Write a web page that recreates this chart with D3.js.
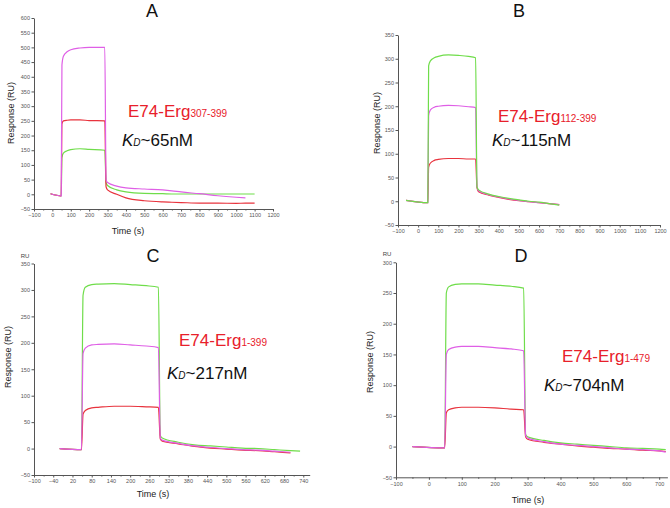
<!DOCTYPE html>
<html><head><meta charset="utf-8">
<script src="https://cdn.jsdelivr.net/npm/d3@7"></script>
<style>
html,body{margin:0;padding:0;background:#fff;}
svg{display:block;font-family:"Liberation Sans",Arial,sans-serif;}
</style></head>
<body>
<svg id="chart" width="670" height="508"></svg>
<script>
// ---------- DATA ----------
const panelNames = ["A", "B", "C", "D"];
const constructNames = ["E74-Erg", "E74-Erg", "E74-Erg", "E74-Erg"];
const constructRanges = ["307-399", "112-399", "1-399", "1-479"];
const kdValues = ["~65nM", "~115nM", "~217nM", "~704nM"];

const xTicksA = [-100,0,100,200,300,400,500,600,700,800,900,1000,1100,1200];
const yTicksA = [-50,0,50,100,150,200,250,300,350,400,450,500,550,600];
const xTicksB = [-100,0,100,200,300,400,500,600,700,800,900,1000,1100,1200];
const yTicksB = [-50,0,50,100,150,200,250,300,350];
const xTicksC = [-100,-40,20,80,140,200,260,320,380,440,500,560,620,680,740];
const yTicksC = [-50,0,50,100,150,200,250,300,350];
const xTicksD = [-100,0,100,200,300,400,500,600,700];
const yTicksD = [-50,0,50,100,150,200,250,300];

const timeA  = [-10, 48, 52, 60, 80, 100, 150, 200, 285, 292, 300, 350, 400, 500, 600, 650, 700, 800, 900, 1000, 1050, 1100];
const pinkA  = [2, -5, 440, 470, 485, 492, 498, 500, 500, 50, 40, 28, 22, 18, 15, 12, 8, 2, -5, -10, -12, null];
const redA   = [2, -5, 240, 250, 252, 253, 253, 251, 250, 25, 15, 0, -12, -22, -26, -27, -28, -30, -30, -31, -30, -30];
const greenA = [2, -5, 125, 140, 148, 152, 155, 153, 150, 40, 30, 15, 8, 3, 2, 1, 1, 1, 1, 1, 1, 1];

const timeB  = [-60, 48, 52, 60, 80, 100, 150, 200, 250, 285, 292, 300, 350, 400, 450, 500, 550, 600, 650, 700];
const greenB = [2, -3, 285, 295, 302, 305, 308, 307, 305, 302, 30, 24, 15, 10, 6, 3, 0, -2, -5, -8];
const pinkB  = [2, -3, 180, 192, 198, 200, 202, 201, 199, 197, 30, 22, 14, 9, 5, 2, -1, -3, -5, -7];
const redB   = [2, -3, 72, 80, 86, 88, 90, 90, 89, 89, 28, 20, 13, 8, 4, 1, -1, -3, -5, -7];

const timeC  = [-20, 48, 53, 60, 80, 100, 150, 200, 250, 288, 294, 300, 350, 400, 450, 500, 550, 600, 650, 700, 730];
const greenC = [0, -2, 290, 305, 310, 311, 312, 310, 308, 305, 25, 20, 12, 7, 5, 3, 1, 0, -2, -4, -5];
const pinkC  = [0, -2, 180, 190, 196, 197, 198, 196, 194, 191, 20, 16, 10, 5, 2, 0, -2, -3, -5, -7, null];
const redC   = [0, -2, 65, 72, 77, 78, 80, 80, 79, 78, 18, 14, 9, 4, 1, -1, -3, -4, -6, -8, null];

const timeD  = [-50, 48, 53, 60, 80, 100, 150, 200, 250, 288, 294, 300, 350, 400, 450, 500, 550, 600, 650, 700, 720];
const greenD = [0, -2, 250, 260, 264, 265, 265, 263, 261, 258, 20, 16, 10, 6, 4, 2, 0, -2, -3, -4, -5];
const pinkD  = [0, -2, 150, 158, 162, 163, 163, 161, 159, 156, 18, 14, 8, 4, 2, 0, -2, -4, -5, -7, -9];
const redD   = [0, -2, 55, 60, 63, 64, 64, 63, 61, 60, 16, 12, 7, 4, 1, -1, -3, -4, -6, -7, -8];

// ---------- LAYOUT / STYLE ----------
const COLORS = {pink: "#df5fe6", green: "#6fdd4a", red: "#e8333d"};
const panels = [
  {name: panelNames[0], xDom: [-100,1200], xRange: [34,273], yDom: [-50,600], yRange: [209,18],
   xTicks: xTicksA, yTicks: yTicksA, time: timeA,
   series: [["green", greenA], ["red", redA], ["pink", pinkA]],
   title: [152,17], yLab: [11,113], xLab: [128,234], ru: null,
   ann: [128,117], kd: [122,146], idx: 0},
  {name: panelNames[1], xDom: [-100,1200], xRange: [398,660], yDom: [-50,350], yRange: [225,35],
   xTicks: xTicksB, yTicks: yTicksB, time: timeB,
   series: [["red", redB], ["pink", pinkB], ["green", greenB]],
   title: [519,17], yLab: [377,123], xLab: null, ru: null,
   ann: [498,122], kd: [492,146], idx: 1},
  {name: panelNames[2], xDom: [-100,760], xRange: [34,309.7], yDom: [-50,350], yRange: [475,263.5],
   xTicks: xTicksC, yTicks: yTicksC, time: timeC,
   series: [["green", greenC], ["red", redC], ["pink", pinkC]],
   title: [153,262], yLab: [8,357], xLab: [153,497], ru: [25,258],
   ann: [179,346], kd: [167,379], idx: 2},
  {name: panelNames[3], xDom: [-100,725], xRange: [396,667.4], yDom: [-50,300], yRange: [477.3,262.3],
   xTicks: xTicksD, yTicks: yTicksD, time: timeD,
   series: [["green", greenD], ["red", redD], ["pink", pinkD]],
   title: [521,262], yLab: [370,362], xLab: [528,503], ru: [387,256],
   ann: [562,362], kd: [544,391], idx: 3}
];

const svg = d3.select("#chart");
const axisColor = "#555";
const fmt = d3.format("d");

panels.forEach(p => {
  const x = d3.scaleLinear().domain(p.xDom).range(p.xRange);
  const y = d3.scaleLinear().domain(p.yDom).range(p.yRange);
  const g = svg.append("g");

  // minor x ticks
  const minor = [];
  for (let i = 0; i < p.xTicks.length - 1; i++) minor.push((p.xTicks[i] + p.xTicks[i+1]) / 2);
  g.append("g").attr("transform", `translate(0,${p.yRange[0]})`)
    .call(d3.axisBottom(x).tickValues(minor).tickSize(1.5).tickFormat(""))
    .call(a => a.select(".domain").remove())
    .call(a => a.selectAll("line").attr("stroke", axisColor));

  const xa = g.append("g").attr("transform", `translate(0,${p.yRange[0]})`)
    .call(d3.axisBottom(x).tickValues(p.xTicks).tickFormat(fmt).tickSizeInner(2.5).tickSizeOuter(0).tickPadding(2));
  const ya = g.append("g").attr("transform", `translate(${p.xRange[0]},0)`)
    .call(d3.axisLeft(y).tickValues(p.yTicks).tickFormat(fmt).tickSizeInner(2.5).tickSizeOuter(0).tickPadding(1.5));
  [xa, ya].forEach(a => {
    a.select(".domain").attr("stroke", axisColor).attr("stroke-width", 1);
    a.selectAll(".tick line").attr("stroke", axisColor);
    a.selectAll("text").attr("fill", "#555").style("font-size", "5.5px")
      .style("font-family", '"Liberation Sans",Arial,sans-serif');
  });

  // curves
  const line = d3.line()
    .defined(d => d[1] !== null)
    .x(d => x(d[0])).y(d => y(d[1]))
    .curve(d3.curveMonotoneX);
  p.series.forEach(([c, vals]) => {
    const pts = p.time.map((t, i) => [t, vals[i]]);
    g.append("path").datum(pts).attr("d", line)
      .attr("fill", "none").attr("stroke", COLORS[c]).attr("stroke-width", 1.2);
  });

  // texts
  g.append("text").attr("x", p.title[0]).attr("y", p.title[1]).attr("text-anchor", "middle")
    .style("font-size", "18px").attr("fill", "#111").text(p.name);
  g.append("text").attr("transform", `translate(${p.yLab[0]},${p.yLab[1]}) rotate(-90)`)
    .attr("text-anchor", "middle").attr("dy", "0.35em")
    .style("font-size", "9px").attr("fill", "#222").text("Response (RU)");
  if (p.xLab) g.append("text").attr("x", p.xLab[0]).attr("y", p.xLab[1]).attr("text-anchor", "middle")
    .style("font-size", "9px").attr("fill", "#222").text("Time (s)");
  if (p.ru) g.append("text").attr("x", p.ru[0]).attr("y", p.ru[1]).attr("text-anchor", "middle")
    .style("font-size", "6px").attr("fill", "#444").text("RU");

  const ann = g.append("text").attr("x", p.ann[0]).attr("y", p.ann[1]).attr("fill", "#e8202a");
  ann.append("tspan").style("font-size", "17px").text(constructNames[p.idx]);
  ann.append("tspan").style("font-size", "10px").text(constructRanges[p.idx]);

  const kd = g.append("text").attr("x", p.kd[0]).attr("y", p.kd[1]).attr("fill", "#111");
  kd.append("tspan").style("font-size", "17px").style("font-style", "italic").text("K");
  kd.append("tspan").style("font-size", "10px").style("font-style", "italic").text("D");
  kd.append("tspan").style("font-size", "17px").text(kdValues[p.idx]);
});
</script>
</body></html>
